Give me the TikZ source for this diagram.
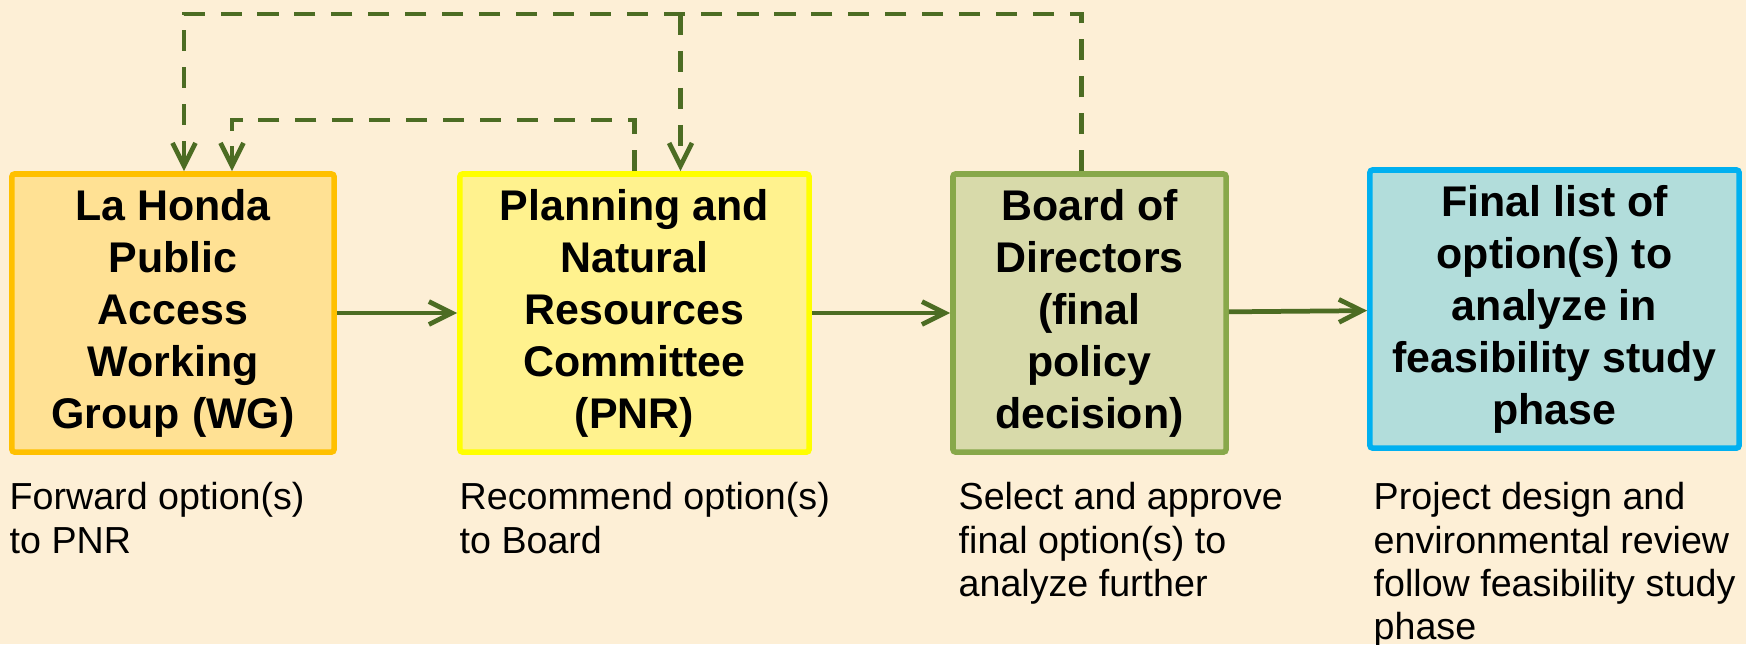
\documentclass[tikz,border=0pt]{standalone}
\usepackage{fontspec}
\setmainfont{Liberation Sans}
\usetikzlibrary{arrows.meta,calc}
\definecolor{bgcream}{RGB}{253,239,214}
\definecolor{linegreen}{RGB}{76,108,35}
\definecolor{wgline}{RGB}{255,192,0}
\definecolor{wgfill}{RGB}{255,225,148}
\definecolor{pnrline}{RGB}{255,255,0}
\definecolor{pnrfill}{RGB}{255,242,142}
\definecolor{dirline}{RGB}{136,168,74}
\definecolor{dirfill}{RGB}{216,218,170}
\definecolor{finline}{RGB}{0,176,240}
\definecolor{finfill}{RGB}{178,221,219}
\begin{document}
\begin{tikzpicture}[x=0.01cm,y=-0.01cm,
    box/.style={draw,line width=1.6pt,rounded corners=0.8pt,align=center,inner sep=0pt,
      minimum height=2.78cm,font=\bfseries\fontsize{12.2}{14.8}\selectfont},
    note/.style={anchor=north west,align=left,inner sep=0pt,
      font=\fontsize{10.7}{12.3}\selectfont},
    flow/.style={draw=linegreen,line width=1.35pt,
      -{Straight Barb[length=6.5pt,width=6.5pt]}},
    back/.style={flow,dash pattern=on 6pt off 4.5pt}]
      \useasboundingbox (0,0) rectangle (1746,644);
      \fill[bgcream] (0,0) rectangle (1746,644);

      \node[box,draw=wgline,fill=wgfill,minimum width=3.22cm] (wg) at (173,313)
        {La Honda\\Public\\Access\\Working\\Group (WG)};
      \node[box,draw=pnrline,fill=pnrfill,minimum width=3.49cm] (pnr) at (634.5,313)
        {Planning and\\Natural\\Resources\\Committee\\(PNR)};
      \node[box,draw=dirline,fill=dirfill,minimum width=2.73cm] (dir) at (1089.5,313)
        {Board of\\Directors\\(final\\policy\\decision)};
      \node[box,draw=finline,fill=finfill,minimum width=3.69cm] (final) at (1554.5,309)
        {Final list of\\option(s) to\\analyze in\\feasibility study\\phase};

      \node[note] (wgnote) at (9,482) {Forward option(s)\\to PNR};
      \node[note] (pnrnote) at (459,482) {Recommend option(s)\\to Board};
      \node[note] (dirnote) at (958,482) {Select and approve\\final option(s) to\\analyze further};
      \node[note] (finalnote) at (1373,482) {Project design and\\environmental review\\follow feasibility study\\phase};

      \draw[flow] (wg) -- (pnr);
      \draw[flow] (pnr) -- (dir);
      \draw[flow] (dir) -- (final);

      \coordinate (toprow) at (0,14);
      \coordinate (midrow) at (0,120);
      \coordinate (dirtop) at ($(dir.north)+(-8,0)$);
      \coordinate (wgin) at ($(wg.north)+(11,0)$);
      \coordinate (wgin2) at ($(wg.north)+(59,0)$);
      \coordinate (pnrin) at ($(pnr.north)+(46,0)$);

      \draw[back] (dirtop) |- (wgin |- toprow) -- (wgin);
      \draw[back] (pnrin |- toprow) -- (pnrin);
      \draw[back] (pnr.north) |- (wgin2 |- midrow) -- (wgin2);
    \end{tikzpicture}
\end{document}
